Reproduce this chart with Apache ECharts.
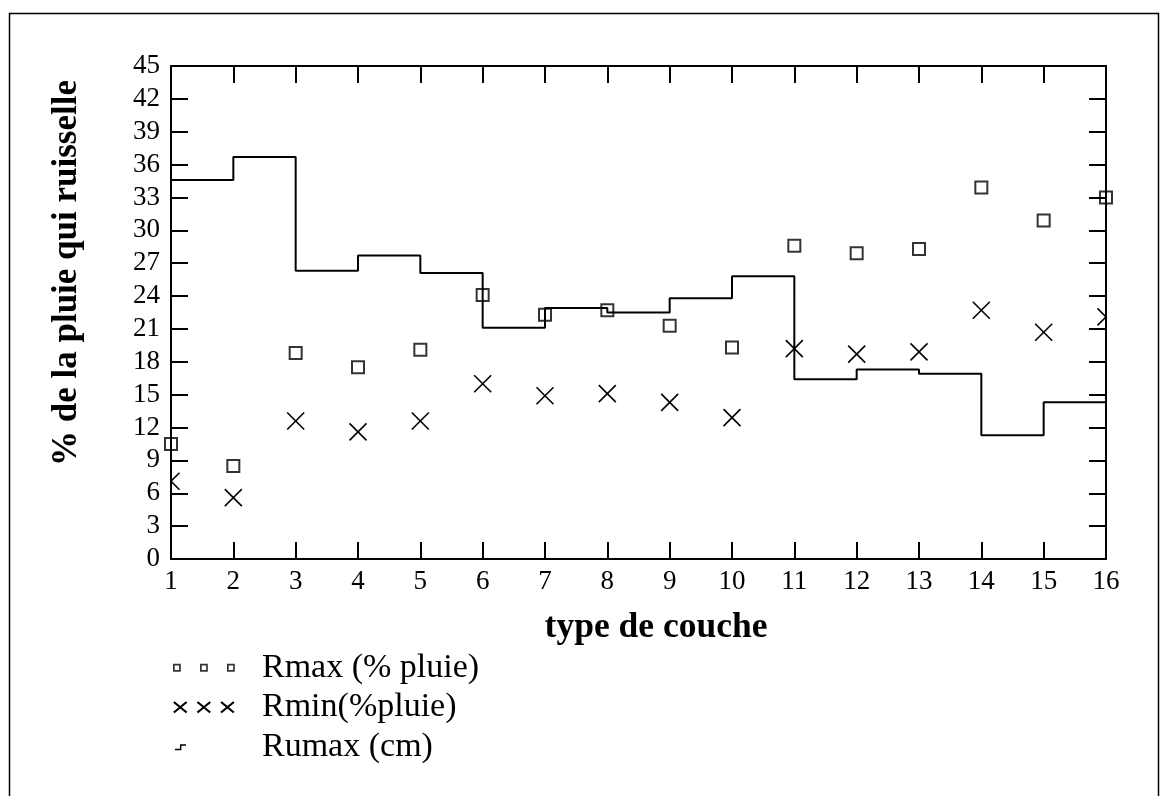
<!DOCTYPE html>
<html>
<head>
<meta charset="utf-8">
<script src="https://cdn.jsdelivr.net/npm/echarts@6/dist/echarts.min.js"></script>
<style>
html,body{margin:0;padding:0;background:#fff;}
#c{width:1169px;height:796px;}
</style>
</head>
<body>
<div id="c"></div>
<script>
// ---- data ----
const couches = [1,2,3,4,5,6,7,8,9,10,11,12,13,14,15,16];
const rmax  = [10.5, 8.5, 18.8, 17.5, 19.1, 24.1, 22.3, 22.7, 21.3, 19.3, 28.6, 27.9, 28.3, 33.9, 30.9, 33.0];
const rmin  = [7.1, 5.6, 12.6, 11.6, 12.6, 16.0, 14.9, 15.1, 14.3, 12.9, 19.2, 18.7, 18.9, 22.7, 20.7, 22.1];
const rumax = [34.6, 36.7, 26.3, 27.7, 26.1, 21.1, 22.9, 22.5, 23.8, 25.8, 16.4, 17.3, 16.9, 11.3, 14.3, 12.1];
const seriesNames = ['Rmax (% pluie)', 'Rmin(%pluie)', 'Rumax (cm)'];
const xTitle = 'type de couche';
const yTitle = '% de la pluie qui ruisselle';

const pair = arr => couches.map((c, i) => [c, arr[i]]);

// plot symbol (filled outline square)
const squareSym = 'path://M0,0L14,0L14,14L0,14ZM2,2L2,12L12,12L12,2Z';

// legend icons
function sq(x){ const s=7.8, t=1.7, y0=2.1;
  return 'M'+x+','+y0+'L'+(x+s)+','+y0+'L'+(x+s)+','+(y0+s)+'L'+x+','+(y0+s)+'Z' +
  'M'+(x+t)+','+(y0+t)+'L'+(x+t)+','+(y0+s-t)+'L'+(x+s-t)+','+(y0+s-t)+'L'+(x+s-t)+','+(y0+t)+'Z'; }
function cr(x){ const a=x, b=x+13, t=0.7, y1=0.6, y2=11.4;
  return 'M'+(a+t)+','+(y1-t)+'L'+(b+t)+','+(y2-t)+'L'+(b-t)+','+(y2+t)+'L'+(a-t)+','+(y1+t)+'Z' +
         'M'+(b-t)+','+(y1-t)+'L'+(b+t)+','+(y1+t)+'L'+(a+t)+','+(y2+t)+'L'+(a-t)+','+(y2-t)+'Z'; }
const bbox = 'M0,0L0,0ZM62,12L62,12Z';
const legSquares = 'path://' + bbox + sq(0) + sq(27) + sq(54);
const legCrosses = 'path://' + bbox + cr(0) + cr(24) + cr(48);
const legStep = 'path://' + bbox + 'M2,8L7,8L7,3.5L13,3.5L13,4.9L8.4,4.9L8.4,9.4L2,9.4Z';

const chart = echarts.init(document.getElementById('c'), null, {renderer:'canvas'});
const font = 'Liberation Serif';
const axisCommon = {
  axisLine: {show:true, onZero:false, lineStyle:{color:'#000', width:2}},
  axisTick: {show:true, inside:true, length:17, lineStyle:{color:'#000', width:2}},
  splitLine: {show:false}
};

function renderCross(params, api) {
  const p = api.coord([api.value(0), api.value(1)]);
  const h = 8.5;
  const st = {stroke:'#000', lineWidth:1.6, fill:'none'};
  return {type:'group', children:[
    {type:'line', shape:{x1:p[0]-h, y1:p[1]-h, x2:p[0]+h, y2:p[1]+h}, style:st},
    {type:'line', shape:{x1:p[0]+h, y1:p[1]-h, x2:p[0]-h, y2:p[1]+h}, style:st}
  ]};
}

chart.setOption({
  animation: false,
  backgroundColor: '#fff',
  textStyle: {fontFamily: font, color:'#000'},
  grid: {left:171, right:63, top:66, bottom:237},
  xAxis: [
    Object.assign({type:'value', min:1, max:16, interval:1, position:'bottom',
      axisLabel:{color:'#000', fontSize:27, fontFamily:font, margin:9}}, axisCommon),
    Object.assign({type:'value', min:1, max:16, interval:1, position:'top',
      axisLabel:{show:false}}, axisCommon)
  ],
  yAxis: [
    Object.assign({type:'value', min:0, max:45, interval:3, position:'left',
      axisLabel:{color:'#000', fontSize:27, fontFamily:font, margin:11}}, axisCommon),
    Object.assign({type:'value', min:0, max:45, interval:3, position:'right',
      axisLabel:{show:false}}, axisCommon)
  ],
  legend: {
    orient:'vertical', left:168, top:643, itemWidth:62, itemHeight:12, itemGap:0,
    symbolKeepAspect:true, selectedMode:false,
    textStyle:{fontFamily:font, fontSize:34, color:'#000', lineHeight:39.5, padding:[0,0,0,22]},
    data:[
      {name:seriesNames[0], icon:legSquares, itemStyle:{color:'#000'}},
      {name:seriesNames[1], icon:legCrosses, itemStyle:{color:'#000'}},
      {name:seriesNames[2], icon:legStep, itemStyle:{color:'#000'}}
    ]
  },
  graphic: [
    {type:'rect', shape:{x:9.5, y:13.5, width:1149, height:800}, silent:true,
     style:{fill:'none', stroke:'#000', lineWidth:1.5}, z:-10},
    {type:'text', x:656, y:628, silent:true,
     style:{text:xTitle, font:'bold 35.5px "Liberation Serif"', fill:'#000', textAlign:'center', textVerticalAlign:'middle'}},
    {type:'text', x:67, y:273, rotation:Math.PI/2, silent:true,
     style:{text:yTitle, font:'bold 35px "Liberation Serif"', fill:'#000', textAlign:'center', textVerticalAlign:'middle'}}
  ],
  series: [
    {name:seriesNames[0], type:'scatter', data:pair(rmax), symbol:squareSym, symbolSize:14,
     itemStyle:{color:'#000'}, clip:false, z:3},
    {name:seriesNames[1], type:'custom', data:pair(rmin), renderItem:renderCross,
     itemStyle:{color:'#000'}, clip:true, z:3},
    {name:seriesNames[2], type:'line', step:'end', data:pair(rumax), showSymbol:false, symbol:'none',
     lineStyle:{color:'#000', width:2}, itemStyle:{color:'#000'}, z:2}
  ]
});
</script>
</body>
</html>
